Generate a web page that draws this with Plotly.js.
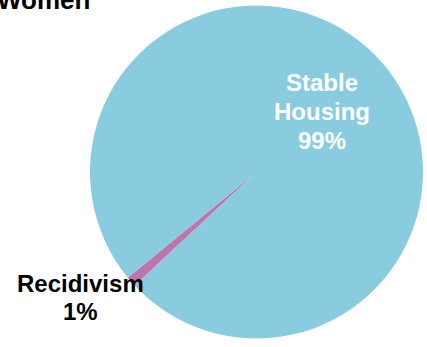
<!DOCTYPE html>
<html>
<head>
<meta charset="utf-8">
<script src="https://cdn.plot.ly/plotly-3.0.1.min.js"></script>
<style>html,body{margin:0;padding:0;background:#fff;}#chart{width:427px;height:347px;}</style>
</head>
<body>
<div id="chart"></div>
<script>
const chartTitle = "Women";
const categories = ["Recidivism", "Stable Housing"];
const values = [1, 99];
const sliceColors = ["#BE76AA", "#89CBDF"];
const labelColors = ["#000000", "#ffffff"];

const W = 427, H = 347;
const FONT = "Liberation Sans, Arial, sans-serif";
const total = values.reduce((a, b) => a + b, 0);

const trace = {
  type: "pie",
  labels: categories,
  values: values,
  sort: false,
  direction: "clockwise",
  rotation: 227,
  marker: {colors: sliceColors, line: {width: 0}},
  textinfo: "none",
  domain: {x: [90/W, 423/W], y: [8.5/H, 341.5/H]},
  automargin: false,
  showlegend: false,
  hoverinfo: "none"
};

// label block positions: [centre x, first line y] in pixels, line step
const labelPos = [[80, 283], [322, 83]];
const lineStep = 28.5;
const annotations = [];
categories.forEach((c, i) => {
  const lines = c.split(" ").concat([Math.round(values[i] / total * 100) + "%"]);
  lines.forEach((t, k) => {
    annotations.push({
      text: "<b>" + t + "</b>",
      x: labelPos[i][0] / W, y: 1 - (labelPos[i][1] + k * lineStep) / H,
      xref: "paper", yref: "paper", xanchor: "center", yanchor: "middle",
      showarrow: false,
      font: {family: FONT, size: 24, color: labelColors[i]}
    });
  });
});

const layout = {
  width: W,
  height: H,
  margin: {l: 0, r: 0, t: 0, b: 0},
  paper_bgcolor: "#ffffff",
  showlegend: false,
  annotations: annotations,
  title: {
    text: "<b>" + chartTitle + "</b>",
    font: {family: FONT, size: 26, color: "#000000"},
    x: 0, xref: "container", xanchor: "left",
    y: 1.0, yref: "container", yanchor: "middle",
    pad: {l: -3}
  }
};

Plotly.newPlot("chart", [trace], layout, {displayModeBar: false, staticPlot: true});
</script>
</body>
</html>
